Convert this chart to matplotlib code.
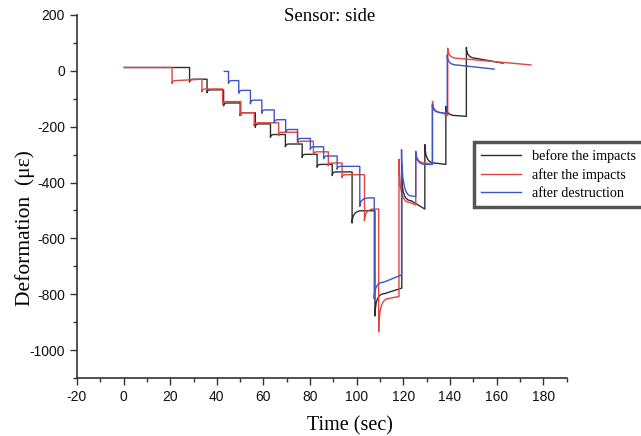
import matplotlib
matplotlib.use('Agg')
import matplotlib.pyplot as plt
from matplotlib.path import Path
from matplotlib.patches import PathPatch
from matplotlib.lines import Line2D
from matplotlib.ticker import MultipleLocator

plt.rcParams.update({
    "font.family": "sans-serif",
    "font.sans-serif": ["Liberation Sans", "DejaVu Sans"],
    "axes.unicode_minus": False,
})
SERIF = ["Liberation Serif", "DejaVu Serif"]

BLACK = "#2e2e2e"
RED   = "#e2443f"
BLUE  = "#3c55c9"

# each step: time, value right after the jump, settled value, value just before the next step
blk_start = (0.0, 12)
blk_t      = [28.3, 35.8, 42.9, 50.0, 56.5, 63.0, 69.4, 76.6, 83.0, 89.5, 98.0, 107.8, 119.3, 129.2, 138.2, 147.0]
blk_jump   = [-40, -78, -125, -160, -202, -238, -272, -310, -345, -375, -545, -878, -380, -264, -127, 84]
blk_settle = [-30, -68, -115, -150, -190, -228, -262, -299, -335, -362, -501, -798, -465, -330, -160, 45]
blk_end    = [-30, -68, -115, -150, -190, -228, -262, -299, -335, -362, -501, -778, -495, -335, -163, 27]
blk_stop   = 163.0

red_start = (0.0, 12)
red_t      = [20.8, 33.6, 42.5, 50.3, 56.0, 66.5, 74.6, 81.4, 87.8, 93.7, 103.3, 109.4, 118.1, 125.3, 132.5, 139.0]
red_jump   = [-45, -75, -120, -160, -196, -232, -262, -300, -340, -382, -537, -935, -317, -288, -109, 81]
red_settle = [-35, -65, -110, -150, -186, -220, -252, -290, -330, -372, -495, -816, -470, -330, -150, 45]
red_end    = [-30, -65, -110, -150, -186, -220, -252, -290, -330, -372, -495, -808, -480, -335, -160, 21]
red_stop   = 175.0

blu_start = (42.9, -2)
blu_t      = [45.0, 49.4, 54.4, 59.3, 64.6, 69.5, 74.6, 80.1, 85.8, 91.6, 101.3, 107.5, 119.2, 125.3, 132.4, 138.8]
blu_jump   = [-45, -80, -118, -152, -186, -220, -252, -282, -315, -352, -485, -816, -282, -290, -121, 57]
blu_settle = [-35, -70, -105, -140, -175, -210, -242, -272, -305, -342, -455, -757, -448, -335, -150, 21]
blu_end    = [-35, -70, -105, -140, -175, -210, -242, -272, -305, -342, -455, -731, -450, -335, -152, 6]
blu_stop   = 159.2

labels = ["before the impacts", "after the impacts", "after destruction"]


def step_path(start, t, jump, settle, end, stop):
    # vertical jump, then a quadratic curve relaxing onto the settled level
    verts = [start]
    codes = [Path.MOVETO]
    prev = start[1]
    for i in range(len(t)):
        knee = 1.5 if abs(jump[i] - settle[i]) < 20 else 4.0
        verts += [(t[i], prev), (t[i], jump[i]), (t[i], settle[i]), (t[i] + knee, settle[i])]
        codes += [Path.LINETO, Path.LINETO, Path.CURVE3, Path.CURVE3]
        prev = end[i]
    verts.append((stop, prev))
    codes.append(Path.LINETO)
    return Path(verts, codes)


fig = plt.figure(figsize=(6.41, 4.36), dpi=100)
ax = fig.add_axes([0.120, 0.133, 0.764, 0.8326])

series = [
    (blk_start, blk_t, blk_jump, blk_settle, blk_end, blk_stop, BLACK),
    (red_start, red_t, red_jump, red_settle, red_end, red_stop, RED),
    (blu_start, blu_t, blu_jump, blu_settle, blu_end, blu_stop, BLUE),
]
for start, t, jump, settle, end, stop, col in series:
    ax.add_patch(PathPatch(step_path(start, t, jump, settle, end, stop),
                           fill=False, edgecolor=col, lw=1.0, joinstyle='round'))

ax.set_xlim(-20, 190)
ax.set_ylim(-1100, 200)
ax.xaxis.set_major_locator(MultipleLocator(20))
ax.xaxis.set_minor_locator(MultipleLocator(10))
ax.yaxis.set_major_locator(MultipleLocator(200))
ax.yaxis.set_minor_locator(MultipleLocator(100))

for s in ['top', 'right']:
    ax.spines[s].set_visible(False)
for s in ['left', 'bottom']:
    ax.spines[s].set_color('#333333')
    ax.spines[s].set_linewidth(1.2)
ax.tick_params(which='major', length=5, width=1.0, color='#333333', labelsize=10, labelcolor='#111111')
ax.tick_params(which='minor', length=3, width=1.0, color='#333333')

ax.set_xlabel("Time (sec)", fontsize=14.5, family=SERIF)
ax.set_ylabel("Deformation  (με)", fontsize=15.5, family=SERIF)
ax.xaxis.set_label_coords(0.557, -0.105)
ax.yaxis.set_label_coords(-0.086, 0.413)

ax.text(0.517, 0.9945, "Sensor: side", transform=ax.transAxes, ha='center', va='center',
        fontsize=13.5, family=SERIF)

handles = [Line2D([], [], color=c, lw=1.0) for c in (BLACK, RED, BLUE)]
leg = fig.legend(handles, labels, loc='upper left', bbox_to_anchor=(474 / 641, 1 - 142 / 436),
                 prop={'family': SERIF, 'size': 10.2}, fancybox=False, framealpha=1,
                 handlelength=2.8, handletextpad=0.8, labelspacing=0.38, borderpad=0.5,
                 borderaxespad=0)
leg.get_frame().set_edgecolor('#555555')
leg.get_frame().set_linewidth(2.5)

fig.savefig("out.png", dpi=100)
